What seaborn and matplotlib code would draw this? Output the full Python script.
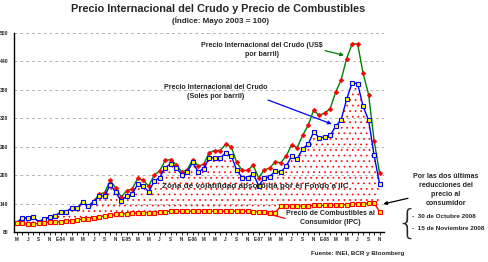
import numpy as np
import pandas as pd
import seaborn as sns
import matplotlib.pyplot as plt

sns.set_theme(style="white")
plt.rcParams['font.family'] = ['Liberation Sans', 'DejaVu Sans']
plt.rcParams['hatch.linewidth'] = 0.5

# monthly index, May 2003 = 100 (May 2003 .. Nov 2008)
crudo_usd = [100, 109, 110, 112, 101, 108, 111, 114,
             122, 123, 131, 131, 143, 135, 145, 160, 163, 189, 173, 154,
             167, 171, 193, 189, 177, 200, 209, 231, 233, 222, 207, 211,
             233, 219, 223, 247, 252, 252, 265, 260, 227, 210, 210, 221,
             194, 211, 215, 228, 226, 240, 264, 258, 284, 305, 337, 326,
             331, 340, 375, 401, 446, 477, 477, 415, 370, 273, 204]
crudo_soles = [100, 109, 110, 112, 101, 108, 111, 114,
               122, 123, 130, 130, 143, 135, 143, 156, 156, 180, 164, 145,
               157, 160, 181, 177, 165, 187, 195, 216, 224, 216, 201, 207,
               227, 207, 214, 236, 237, 236, 247, 241, 211, 195, 194, 203,
               178, 193, 197, 208, 206, 219, 240, 234, 256, 265, 291, 279,
               280, 284, 303, 317, 360, 395, 393, 345, 316, 242, 181]
combustibles_ipc = [100, 98, 96, 97, 98, 100, 101, 101,
                    102, 103, 104, 106, 107, 108, 110, 112, 114, 115, 117, 118,
                    119, 120, 120, 120, 121, 121, 122, 123, 124, 124, 124, 124,
                    124, 124, 124, 124, 124, 124, 124, 124, 124, 124, 124, 123,
                    123, 122, 121, 121, 134, 134, 135, 135, 135, 135, 136, 136,
                    136, 136, 137, 137, 138, 139, 140, 140, 141, 141, 123]
fechas = pd.date_range("2003-05-01", periods=len(crudo_usd), freq="MS")
inicial_mes = "EFMAMJJASOND"
y_ticks = [80, 140, 200, 260, 320, 380, 440, 500]

df = pd.DataFrame({"mes": np.arange(len(fechas)), "usd": crudo_usd,
                   "soles": crudo_soles, "ipc": combustibles_ipc})

W, H = 488, 262
fig = plt.figure(figsize=(W / 100, H / 100), dpi=100)
ax = fig.add_axes([14 / W, 1 - 232 / H, (384 - 14) / W, (232 - 33) / H])


def px(x, y):
    return x / W, 1 - y / H


# zona de volatilidad (dotted area between fuel price and crude in soles)
ax.fill_between(df["mes"], df["ipc"], df["soles"], facecolor="none",
                edgecolor="red", hatch="...", linewidth=0, zorder=1)

sns.lineplot(data=df, x="mes", y="usd", ax=ax, color="#008000", lw=1,
             marker="D", ms=2.4, mfc="red", mec="red", mew=0.4, zorder=4)
sns.lineplot(data=df, x="mes", y="soles", ax=ax, color="#0000ff", lw=1,
             marker="s", ms=3.2, mfc="yellow", mec="#0000ff", mew=0.8, zorder=5)
sns.lineplot(data=df, x="mes", y="ipc", ax=ax, color="red", lw=1,
             marker="s", ms=3.2, mfc="yellow", mec="red", mew=0.8, zorder=5)

ax.set_xlim(-0.5, 66.8)
ax.set_ylim(80, 500)
ax.set_xlabel("")
ax.set_ylabel("")
ax.set_yticks(y_ticks)
ax.set_yticklabels([str(v) for v in y_ticks], fontsize=3.6, fontweight="bold")
ax.yaxis.grid(True, color="#b4b4b4", ls=(0, (3, 3)), lw=0.7)
ax.xaxis.grid(False)

labels = []
for f in fechas[::2]:
    s = inicial_mes[f.month - 1]
    if f.month == 1:
        s = s + "-" + f.strftime("%y")
    labels.append(s)
ax.set_xticks(df["mes"][::2])
ax.set_xticklabels(labels, fontsize=3.3, fontweight="bold")
ax.set_xticks(df["mes"], minor=True)
ax.tick_params(axis="x", which="both", direction="out", length=2, width=0.6,
               color="black", pad=1.5, bottom=True)
ax.tick_params(axis="y", length=0, pad=4)

for side in ["top", "right"]:
    ax.spines[side].set_visible(False)
for side in ["left", "bottom"]:
    ax.spines[side].set_color("black")
    ax.spines[side].set_linewidth(1)

# titles
fig.text(*px(218, 9), "Precio Internacional del Crudo y Precio de Combustibles",
         ha="center", va="center", fontsize=7.8, fontweight="bold")
fig.text(*px(220, 21), "(Índice: Mayo 2003 = 100)", ha="center", va="center",
         fontsize=5.8, fontweight="bold")

fs = 5.1
fig.text(*px(262, 50), "Precio Internacional del Crudo (US$\npor barril)",
         ha="center", va="center", fontsize=fs, fontweight="bold", linespacing=1.4)
fig.text(*px(216, 92), "Precio Internacional del Crudo\n(Soles por barril)",
         ha="center", va="center", fontsize=fs, fontweight="bold", linespacing=1.4)
fig.text(*px(255, 187), "Zona de volatilidad absorbida por el Fondo a IIC",
         ha="center", va="center", fontsize=5.9, fontweight="bold")
fig.text(*px(330, 218), "Precio de Combustibles al\nConsumidor (IPC)",
         ha="center", va="center", fontsize=fs, fontweight="bold", linespacing=1.4)
fig.text(*px(446, 190), "Por las dos últimas\nreducciones del\nprecio al\nconsumidor",
         ha="center", va="center", fontsize=fs, fontweight="bold", linespacing=1.35)
fig.text(*px(407, 224), "{", ha="center", va="center", fontsize=24,
         fontweight="ultralight", family="DejaVu Sans")
fig.text(*px(412, 217), "-  30 de Octubre 2008", ha="left", va="center",
         fontsize=4.6, fontweight="bold")
fig.text(*px(412, 229), "-  15 de Noviembre 2008", ha="left", va="center",
         fontsize=4.6, fontweight="bold")
fig.text(*px(358, 253), "Fuente: INEI, BCR y Bloomberg", ha="center",
         va="center", fontsize=4.5, fontweight="bold")

arrows = [((325, 50.7), (344, 55.3), "#008000"),
          ((268, 100), (331.7, 124), "#0000ff"),
          ((285, 218.3), (259.3, 211.7), "red"),
          ((408, 198.3), (383.3, 204), "black")]
for (x0, y0), (x1, y1), c in arrows:
    ax.annotate("", xy=px(x1, y1), xycoords="figure fraction",
                xytext=px(x0, y0), textcoords="figure fraction",
                arrowprops=dict(arrowstyle="-|>", color=c, lw=0.9,
                                mutation_scale=5, shrinkA=0, shrinkB=0),
                annotation_clip=False)

fig.savefig("out.png", dpi=100)
